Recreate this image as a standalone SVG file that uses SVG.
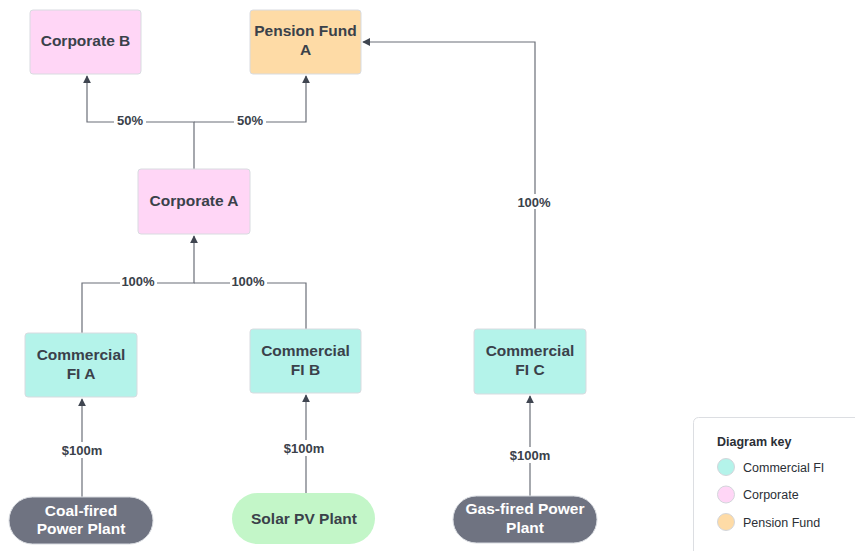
<svg xmlns="http://www.w3.org/2000/svg" width="855" height="551" viewBox="0 0 855 551">
<defs>
<marker id="arr" viewBox="0 0 10 10" refX="9" refY="5" markerWidth="8" markerHeight="8" markerUnits="userSpaceOnUse" orient="auto">
<path d="M0,0 L10,5 L0,10 Z" fill="#3f4550"/>
</marker>
<style>
.box{stroke:#d8dbe0;stroke-width:1}
.fi{fill:#b4f3ea}
.corp{fill:#ffd6f6}
.pen{fill:#fedba6}
.t{font-family:"Liberation Sans",Arial,sans-serif;font-weight:bold;font-size:15.5px;fill:#3a414a;text-anchor:middle}
.tw{font-family:"Liberation Sans",Arial,sans-serif;font-weight:bold;font-size:15.5px;fill:#ffffff;text-anchor:middle}
.lbl{font-family:"Liberation Sans",Arial,sans-serif;font-weight:bold;font-size:13px;fill:#3a414a;text-anchor:middle}
.c{fill:none;stroke:#6b6f78;stroke-width:1.2}
.lb{fill:#ffffff}
.k{font-family:"Liberation Sans",Arial,sans-serif;font-size:12.5px;fill:#2b2f36}
</style>
</defs>
<rect width="855" height="551" fill="#ffffff"/>
<g id="connectors">
<path class="c" d="M194,169 V122 H87 V76" marker-end="url(#arr)"/>
<path class="c" d="M194,122 H306 V76" marker-end="url(#arr)"/>
<path class="c" d="M82,333 V283 H194 V236" marker-end="url(#arr)"/>
<path class="c" d="M306,329 V283 H194"/>
<path class="c" d="M535,329 V42 H363" marker-end="url(#arr)"/>
<path class="c" d="M82,497 V399" marker-end="url(#arr)"/>
<path class="c" d="M306,493 V395" marker-end="url(#arr)"/>
<path class="c" d="M530,496 V396" marker-end="url(#arr)"/>
<rect class="lb" x="114" y="112" width="32" height="15"/>
<text class="lbl" x="130" y="124.5">50%</text>
<rect class="lb" x="234" y="112" width="32" height="15"/>
<text class="lbl" x="250" y="124.5">50%</text>
<rect class="lb" x="120" y="274" width="37" height="15"/>
<text class="lbl" x="138" y="286">100%</text>
<rect class="lb" x="230" y="274" width="37" height="15"/>
<text class="lbl" x="248" y="286">100%</text>
<rect class="lb" x="516" y="194" width="37" height="15"/>
<text class="lbl" x="534" y="207">100%</text>
<rect class="lb" x="60" y="442" width="44" height="16"/>
<text class="lbl" x="82" y="455">$100m</text>
<rect class="lb" x="283" y="440" width="44" height="16"/>
<text class="lbl" x="304" y="453">$100m</text>
<rect class="lb" x="507" y="447" width="44" height="16"/>
<text class="lbl" x="530" y="460">$100m</text>
</g>
<g id="corporate-b">
<rect class="box corp" x="30" y="10" width="111" height="64" rx="3"/>
<text class="t" x="85.5" y="46">Corporate B</text>
</g>
<g id="pension-fund-a">
<rect class="box pen" x="250" y="10" width="111" height="64" rx="3"/>
<text class="t" x="305.5" y="36">Pension Fund</text>
<text class="t" x="305.5" y="55">A</text>
</g>
<g id="corporate-a">
<rect class="box corp" x="138" y="169" width="112" height="65" rx="3"/>
<text class="t" x="194" y="206">Corporate A</text>
</g>
<g id="fi-a">
<rect class="box fi" x="25" y="333" width="112" height="64" rx="3"/>
<text class="t" x="81" y="360">Commercial</text>
<text class="t" x="81" y="379">FI A</text>
</g>
<g id="fi-b">
<rect class="box fi" x="250" y="329" width="111" height="64" rx="3"/>
<text class="t" x="305.5" y="356">Commercial</text>
<text class="t" x="305.5" y="375">FI B</text>
</g>
<g id="fi-c">
<rect class="box fi" x="474" y="329" width="112" height="65" rx="3"/>
<text class="t" x="530" y="356">Commercial</text>
<text class="t" x="530" y="375">FI C</text>
</g>
<g id="coal">
<rect x="9" y="497" width="144" height="47" rx="23.5" fill="#6f7381" stroke="#d8dbe0"/>
<text class="tw" x="81" y="515.5">Coal-fired</text>
<text class="tw" x="81" y="534">Power Plant</text>
</g>
<g id="solar">
<rect x="232" y="493" width="143" height="51" rx="25.5" fill="#c3f6c8"/>
<text class="t" x="304" y="524">Solar PV Plant</text>
</g>
<g id="gas">
<rect x="453" y="496" width="144" height="47" rx="23.5" fill="#6f7381" stroke="#d8dbe0"/>
<text class="tw" x="525" y="514">Gas-fired Power</text>
<text class="tw" x="525" y="533">Plant</text>
</g>
<g id="legend">
<rect x="693.5" y="417.5" width="175" height="150" rx="5" fill="#ffffff" stroke="#dcdee2"/>
<text class="k" x="717" y="446" font-weight="bold" font-size="12px" fill="#1f2329">Diagram key</text>
<circle cx="726" cy="467" r="8.5" fill="#b4f3ea" stroke="#d3d6db"/>
<text class="k" x="743" y="471.5">Commercial FI</text>
<circle cx="726" cy="494.5" r="8.5" fill="#ffd6f6" stroke="#d3d6db"/>
<text class="k" x="743" y="499">Corporate</text>
<circle cx="726" cy="522" r="8.5" fill="#fedba6" stroke="#d3d6db"/>
<text class="k" x="743" y="526.5">Pension Fund</text>
</g>
</svg>
